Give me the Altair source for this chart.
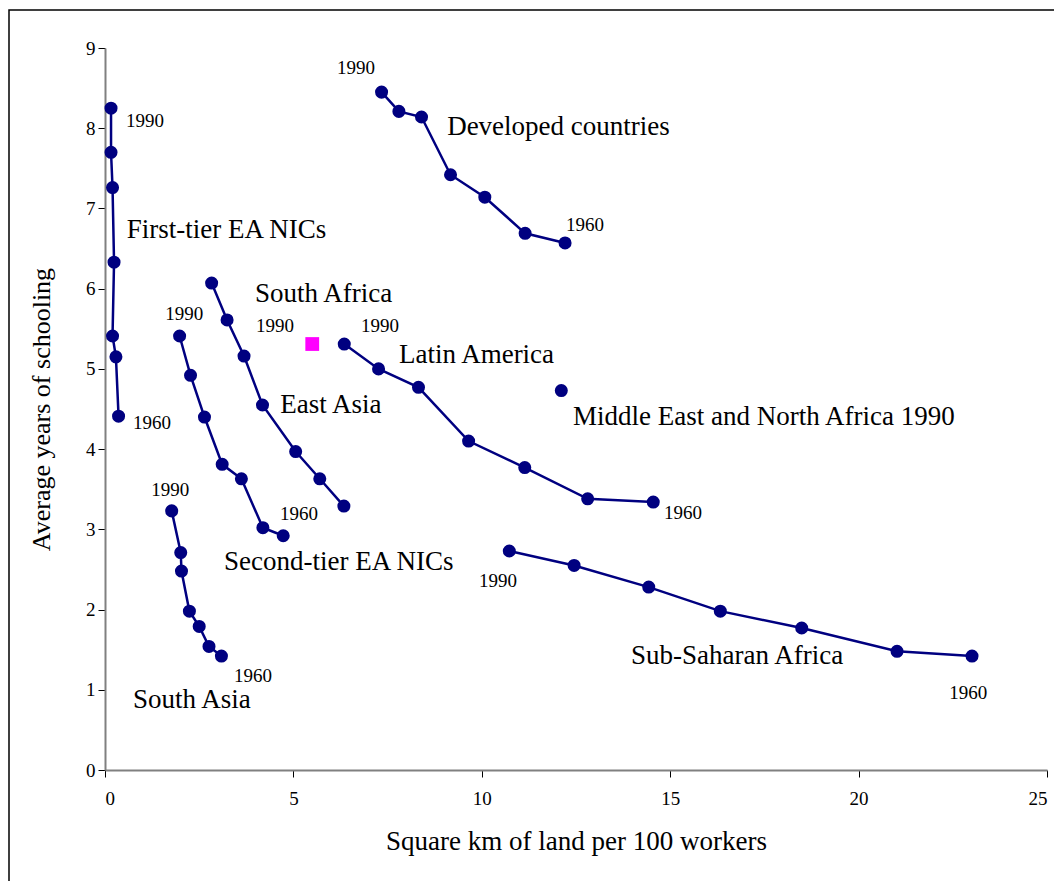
import altair as alt
import pandas as pd

# ---- data ----
first_tier_x = [0.16, 0.16, 0.20, 0.24, 0.20, 0.29, 0.36]
first_tier_y = [8.25, 7.70, 7.26, 6.33, 5.41, 5.15, 4.41]

developed_x = [7.34, 7.80, 8.40, 9.17, 10.08, 11.15, 12.21]
developed_y = [8.45, 8.21, 8.14, 7.42, 7.14, 6.69, 6.57]

east_asia_x = [2.83, 3.24, 3.69, 4.18, 5.06, 5.70, 6.34]
east_asia_y = [6.07, 5.61, 5.16, 4.55, 3.97, 3.63, 3.29]

second_tier_x = [1.98, 2.27, 2.64, 3.11, 3.62, 4.19, 4.73]
second_tier_y = [5.41, 4.92, 4.40, 3.81, 3.63, 3.02, 2.92]

south_asia_x = [1.77, 2.01, 2.03, 2.24, 2.50, 2.76, 3.09]
south_asia_y = [3.23, 2.71, 2.48, 1.98, 1.79, 1.54, 1.42]

latin_x = [6.35, 7.26, 8.32, 9.65, 11.14, 12.81, 14.55]
latin_y = [5.31, 5.00, 4.77, 4.10, 3.77, 3.38, 3.34]

ssa_x = [10.73, 12.45, 14.43, 16.33, 18.49, 21.02, 23.01]
ssa_y = [2.73, 2.55, 2.28, 1.98, 1.77, 1.48, 1.42]

mena_x = [12.11]
mena_y = [4.73]

south_africa_x = [5.50]
south_africa_y = [5.31]

years = [1990, 1985, 1980, 1975, 1970, 1965, 1960]

# year annotations
year_text = ["1990", "1960", "1990", "1960", "1990", "1990", "1960",
             "1990", "1960", "1990", "1960", "1990", "1960"]
year_x = [1.06, 1.25, 6.66, 12.74, 4.51, 2.10, 5.15,
          1.73, 3.93, 7.30, 15.34, 10.43, 22.91]
year_y = [8.09, 4.32, 8.75, 6.79, 5.54, 5.69, 3.19,
          3.49, 1.17, 5.54, 3.20, 2.35, 0.96]

# region annotations
region_text = ["First-tier EA NICs", "Developed countries", "South Africa",
               "East Asia", "Latin America", "Middle East and North Africa 1990",
               "Second-tier EA NICs", "South Asia", "Sub-Saharan Africa"]
region_x = [0.58, 9.08, 3.98, 4.65, 7.80, 12.42, 3.16, 0.74, 13.96]
region_y = [6.73, 8.02, 5.93, 4.55, 5.17, 4.40, 2.59, 0.87, 1.42]

# ---- build tables ----
series = {
    "First-tier EA NICs": (first_tier_x, first_tier_y),
    "Developed countries": (developed_x, developed_y),
    "East Asia": (east_asia_x, east_asia_y),
    "Second-tier EA NICs": (second_tier_x, second_tier_y),
    "South Asia": (south_asia_x, south_asia_y),
    "Latin America": (latin_x, latin_y),
    "Sub-Saharan Africa": (ssa_x, ssa_y),
    "Middle East and North Africa": (mena_x, mena_y),
}
rows = []
for name, (xs, ys) in series.items():
    for i, (xv, yv) in enumerate(zip(xs, ys)):
        rows.append({"region": name, "x": xv, "y": yv, "year": years[i], "order": i})
df = pd.DataFrame(rows)
df_sa = pd.DataFrame({"x": south_africa_x, "y": south_africa_y})
df_years = pd.DataFrame({"x": year_x, "y": year_y, "t": year_text})
df_regions = pd.DataFrame({"x": region_x, "y": region_y, "t": region_text})

FONT = "Liberation Serif"
NAVY = "#000080"

xs = alt.Scale(domain=[0, 25], nice=False, zero=False)
ys = alt.Scale(domain=[0, 9], nice=False, zero=False)

x_enc = alt.X("x:Q", scale=xs,
              axis=alt.Axis(values=[0, 5, 10, 15, 20, 25], format="d",
                            title="Square km of land per 100 workers",
                            titleFontSize=27, titlePadding=20))
y_enc = alt.Y("y:Q", scale=ys,
              axis=alt.Axis(values=list(range(10)), format="d",
                            title="Average years of schooling",
                            titleFontSize=26, titlePadding=31))

base = alt.Chart(df)

lines = base.mark_line(color=NAVY, strokeWidth=2.5).encode(
    x=x_enc, y=y_enc, detail="region:N", order="order:Q"
)
points = base.mark_circle(color=NAVY, opacity=1, size=170).encode(
    x="x:Q", y="y:Q"
)
sa = alt.Chart(df_sa).mark_square(color="#FF00FF", opacity=1, size=190).encode(
    x="x:Q", y="y:Q"
)
year_labels = alt.Chart(df_years).mark_text(
    font=FONT, fontSize=19, color="black", align="center", baseline="middle"
).encode(x="x:Q", y="y:Q", text="t:N")
region_labels = alt.Chart(df_regions).mark_text(
    font=FONT, fontSize=27, color="black", align="left", baseline="middle"
).encode(x="x:Q", y="y:Q", text="t:N")

frame = alt.Chart(pd.DataFrame({"a": [0]})).mark_rect(
    fill=None, stroke="black", strokeWidth=1.5, clip=False
).encode(
    x=alt.value(-96), x2=alt.value(980), y=alt.value(-38), y2=alt.value(900)
)

chart = alt.layer(frame, lines, points, sa, year_labels, region_labels).properties(
    width=942, height=722,
    autosize=alt.AutoSizeParams(type="none"),
    padding={"left": 105, "top": 48, "right": 7, "bottom": 111},
).configure_view(stroke=None).configure_axis(
    grid=False,
    domainColor="#808080", domainWidth=2,
    tickColor="black", tickSize=7, tickWidth=1,
    labelFont=FONT, labelFontSize=19, labelColor="black",
    titleFont=FONT, titleFontWeight="normal", titleColor="black",
).configure_axisX(
    labelPadding=12
).configure_axisY(
    labelPadding=3
)

chart.save("out.html", embed_options={"renderer": "svg", "actions": False})
